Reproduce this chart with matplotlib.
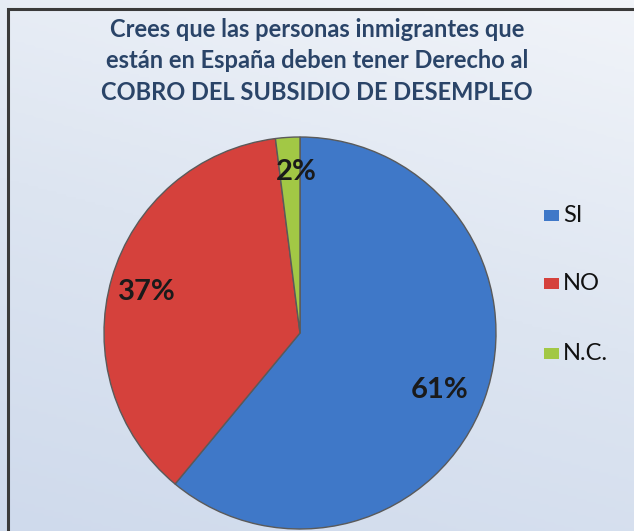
import numpy as np
import matplotlib.pyplot as plt
from matplotlib.colors import LinearSegmentedColormap
from matplotlib.patches import Rectangle

title = "Crees que las personas inmigrantes que\nestán en España deben tener Derecho al\nCOBRO DEL SUBSIDIO DE DESEMPLEO"
labels = ["SI", "NO", "N.C."]
values = [61, 37, 2]
colors = ["#3f78c8", "#d5413c", "#a2c845"]

W, H = 634, 531
fig = plt.figure(figsize=(W / 100, H / 100), dpi=100)

# background gradient
bg = fig.add_axes([0, 0, 1, 1])
cmap = LinearSegmentedColormap.from_list("bg", ["#f1f4f9", "#dde5f1", "#cfdaec"])
yy, xx = np.mgrid[0:1:200j, 0:1:200j]
grad = 0.75 * yy + 0.25 * (1 - xx)
bg.imshow(grad, cmap=cmap, extent=[0, 1, 0, 1], aspect="auto", origin="upper")
bg.add_patch(Rectangle((8 / W, -0.1), 1.2, 1 - 9 / H + 0.1, fill=False,
                       edgecolor="#3a3a3a", linewidth=2.2))
bg.set_xlim(0, 1)
bg.set_ylim(0, 1)
bg.axis("off")

fig.text(317 / W, 1 - 61 / H, title, ha="center", va="center", fontsize=17,
         color="#2a4468", family="Lato", fontweight="bold", linespacing=1.47)

# pie
cx, cy, r = 300, 333, 196
ax = fig.add_axes([(cx - r) / W, (H - cy - r) / H, 2 * r / W, 2 * r / H])
wedges, _ = ax.pie(values, colors=colors, startangle=90, counterclock=False,
                   radius=1, wedgeprops=dict(edgecolor="#5a5a5a", linewidth=1))
ax.set_xlim(-1, 1)
ax.set_ylim(-1, 1)
ax.set_aspect("equal")
ax.axis("off")

label_pos = [(0.71, -0.29), (-0.78, 0.21), (-0.02, 0.82)]
for v, (lx, ly) in zip(values, label_pos):
    ax.text(lx, ly, f"{v}%", ha="center", va="center", fontsize=21,
            fontweight="bold", family="Lato", color="#1a1a1a")

# legend
leg_y = [215, 283, 353]
for lab, col, y in zip(labels, colors, leg_y):
    bg.add_patch(Rectangle((544 / W, 1 - (y + 6) / H), 15 / W, 11 / H,
                           facecolor=col, edgecolor="none"))
    bg.text(563 / W, 1 - y / H, lab, ha="left", va="center", fontsize=17,
            family="Lato", color="#111111")

fig.savefig("out.png", dpi=100)
